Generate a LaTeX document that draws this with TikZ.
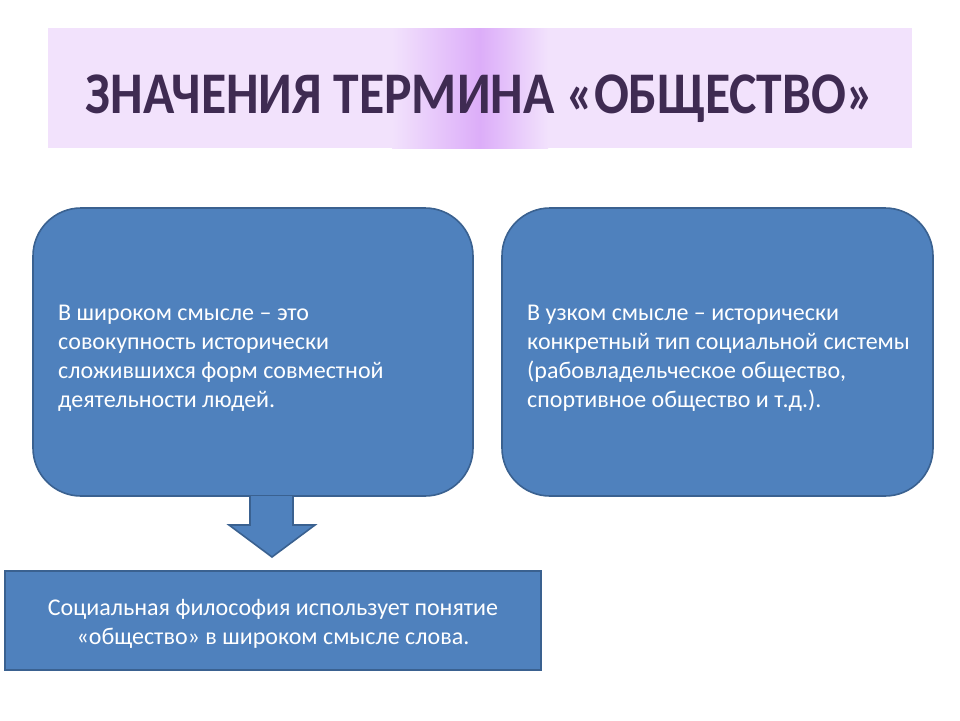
\documentclass[tikz,border=0pt]{standalone}
\usepackage{fontspec}
\setmainfont{Carlito}
\definecolor{boxfill}{HTML}{4F81BD}
\definecolor{boxline}{HTML}{3A6190}
\definecolor{titlebg}{HTML}{F2E2FC}
\definecolor{titlepk}{HTML}{DCADF9}
\definecolor{titletx}{HTML}{3F2B52}
\tikzset{
  x=1pt, y=-1pt,
  bluebox/.style={fill=boxfill, draw=boxline, line width=1.6pt},
  boxtext/.style={text=white, font=\fontsize{24}{29}\selectfont, align=left, inner sep=0pt, anchor=base west},
}
\begin{document}
\begin{tikzpicture}
\useasboundingbox (0,0) rectangle (960,720);
\fill[white] (0,0) rectangle (960,720);
% title band
\fill[titlebg] (48,28) rectangle (912,148);
\shade[left color=titlebg, right color=titlepk, draw=none] (392,28) rectangle (480,148);
\shade[left color=titlepk, right color=titlebg, draw=none] (480,28) rectangle (548,148);
\node[text=titletx, font=\fontsize{59}{60}\selectfont\bfseries, inner sep=0pt, anchor=base, xscale=0.875] (title) at (480,113) {ЗНАЧЕНИЯ ТЕРМИНА «ОБЩЕСТВО»};
% boxes
\draw[bluebox, rounded corners=48pt] (33,208) rectangle (473,496);
\draw[bluebox, rounded corners=48pt] (502,208) rectangle (933,496);
\node[boxtext] (ltext) at (58,407) {В широком смысле – это\\совокупность исторически\\сложившихся форм совместной\\деятельности людей.};
\node[boxtext] (rtext) at (527,407) {В узком смысле – исторически\\конкретный тип социальной системы\\(рабовладельческое общество,\\спортивное общество и т.д.).};
% bottom box
\draw[bluebox] (5,571) rectangle (541,670);
\node[text=white, font=\fontsize{24}{29}\selectfont, align=center, inner sep=0pt, anchor=base] (bottom) at (273,644) {Социальная философия использует понятие\\«общество» в широком смысле слова.};
% arrow
\draw[bluebox, line join=miter] (250,496) -- (250,525) -- (229,525) -- (272,557) -- (315,525) -- (293,525) -- (293,496);
\end{tikzpicture}
\end{document}
